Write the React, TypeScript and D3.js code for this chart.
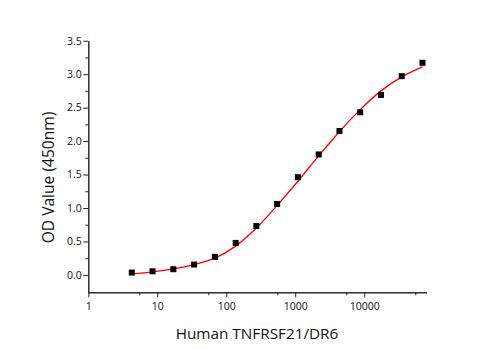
import * as d3 from "d3";
import React, { useEffect, useRef } from "react";

// concentrations (2-fold dilution series) and measured OD
const conc = [4.27, 8.54, 17.1, 34.2, 68.4, 137, 273, 547, 1094, 2188, 4375, 8750, 17500, 35000, 70000];
const od = [0.035, 0.054, 0.085, 0.155, 0.27, 0.478, 0.73, 1.06, 1.46, 1.8, 2.15, 2.43, 2.69, 2.97, 3.17];
// fitted curve at the same concentrations
const fitOd = [0.015, 0.045, 0.09, 0.155, 0.25, 0.43, 0.7, 1.04, 1.4, 1.78, 2.14, 2.47, 2.75, 2.96, 3.11];

const xMajor = [1, 10, 100, 1000, 10000];
const xMinor = [5.5, 55, 550, 5500, 55000];
const yMajor = [0, 0.5, 1, 1.5, 2, 2.5, 3, 3.5];
const yMinor = [0.25, 0.75, 1.25, 1.75, 2.25, 2.75, 3.25];

const width = 495;
const height = 350;
const font = "'Open Sans', 'Noto Sans', sans-serif";

const x = d3.scaleLog().domain([1, 80000]).range([88.3, 426.5]);
const y = d3.scaleLinear().domain([-0.26, 3.5]).range([292.3, 40.7]);

const App = () => {
  const xRef = useRef<SVGGElement>(null);
  const yRef = useRef<SVGGElement>(null);

  useEffect(() => {
    const gx = d3.select(xRef.current!);
    gx.selectAll("*").remove();
    gx.append("g").call(
      d3.axisBottom(x).tickValues(xMinor).tickSize(3).tickFormat(() => "").tickSizeOuter(0)
    );
    gx.append("g").call(
      d3.axisBottom(x).tickValues(xMajor).tickSize(5).tickFormat(d3.format("d")).tickSizeOuter(0)
    );
    gx.selectAll("text").attr("font-family", font).attr("font-size", 10.5).attr("fill", "#111").attr("dy", "0.9em");

    const gy = d3.select(yRef.current!);
    gy.selectAll("*").remove();
    gy.append("g").call(
      d3.axisLeft(y).tickValues(yMinor).tickSize(3).tickFormat(() => "").tickSizeOuter(0)
    );
    gy.append("g").call(
      d3.axisLeft(y).tickValues(yMajor).tickSize(5).tickFormat(d3.format(".1f")).tickSizeOuter(0)
    );
    gy.selectAll("text").attr("font-family", font).attr("font-size", 10.5).attr("fill", "#111").attr("x", -6.5);
    gx.selectAll("path, line").attr("stroke", "#222");
    gy.selectAll("path, line").attr("stroke", "#222");
  }, []);

  const line = d3
    .line<number>()
    .x((_, i) => x(conc[i]))
    .y((d) => y(d))
    .curve(d3.curveCatmullRom.alpha(0.5));

  return (
    <svg width={width} height={height} style={{ position: "absolute", left: 0, top: 0, background: "#fff" }}>
      <g ref={xRef} transform={`translate(0,${y.range()[0]})`} />
      <g ref={yRef} transform={`translate(${x.range()[0]},0)`} />
      <path d={line(fitOd) || ""} fill="none" stroke="#ff0000" strokeWidth={1.3} />
      {od.map((d, i) => (
        <rect key={i} x={x(conc[i]) - 3} y={y(d) - 3} width={6} height={6} fill="#000" />
      ))}
      <text x={257} y={338.5} textAnchor="middle" fontFamily={font} fontSize={15.3} fill="#111">
        Human TNFRSF21/DR6
      </text>
      <text
        transform={`translate(53.5,177.5) rotate(-90)`}
        textAnchor="middle"
        fontFamily={font}
        fontSize={15.6}
        fill="#111"
      >
        OD Value (450nm)
      </text>
    </svg>
  );
};

export default App;
